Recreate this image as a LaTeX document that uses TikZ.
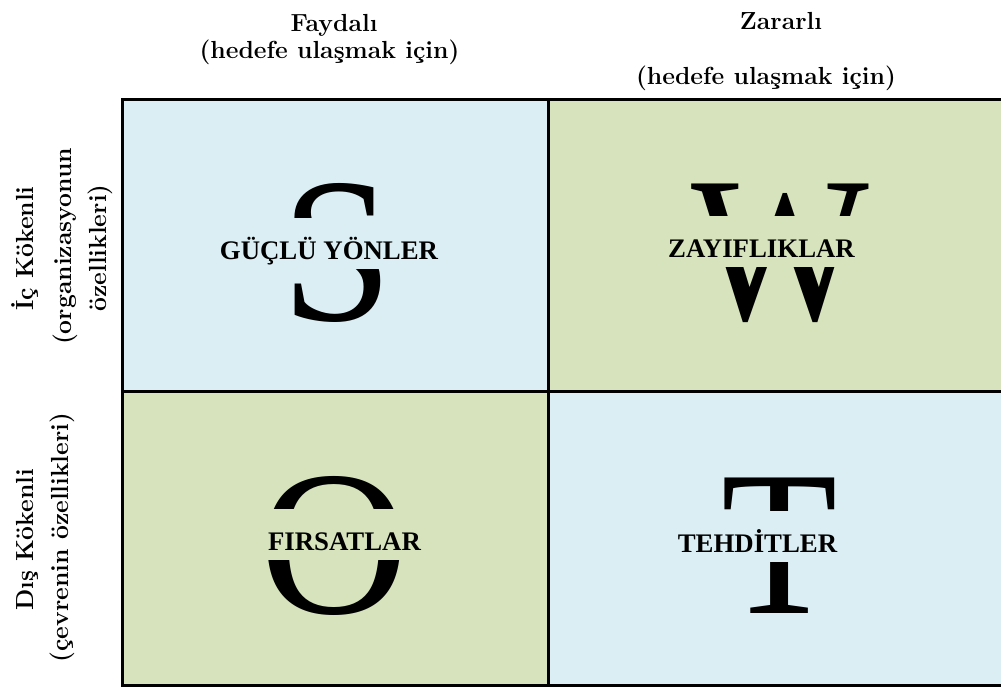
\documentclass[tikz,border=0pt]{standalone}
\usepackage{fontspec}
\usepackage{graphicx}
\usepackage{tikz}
\usetikzlibrary{positioning}
\newfontfamily\swotfont{Liberation Serif}
\definecolor{SwotBlue}{HTML}{DAEEF3}
\definecolor{SwotGreen}{HTML}{D6E3BC}
\tikzset{
  cell/.style={
    draw=black,
    line width=3pt,
    inner sep=0pt,
    outer sep=0pt
  },
  blueCell/.style={cell,fill=SwotBlue},
  greenCell/.style={cell,fill=SwotGreen},
  bigletter/.style={
    font={\swotfont\fontsize{207}{207}\selectfont},
    inner sep=0pt
  },
  swotlabel/.style={
    font={\swotfont\bfseries\fontsize{26.8}{30}\selectfont},
    text height=42pt,
    text depth=9pt,
    inner xsep=29pt,
    inner ysep=0pt,
    anchor=base
  },
  head/.style={
    font={\bfseries\fontsize{24.7}{28}\selectfont},
    inner sep=0pt,
    anchor=base
  },
  side/.style={head,rotate=90}
}

\begin{document}
\begin{tikzpicture}[x=1pt,y=1pt]
  \useasboundingbox (0,0) rectangle (1001,688);

  % The four cells of the matrix.
  \node[blueCell,  minimum width=426pt, minimum height=292pt]   (sCell) at (335,442)      {};
  \node[greenCell, minimum width=455pt, minimum height=292pt]   (wCell) at (775.5,442)    {};
  \node[greenCell, minimum width=426pt, minimum height=293.5pt] (oCell) at (335,149.25)   {};
  \node[blueCell,  minimum width=455pt, minimum height=293.5pt] (tCell) at (775.5,149.25) {};

  % Large initials, partly covered by the labels.
  \node[bigletter] (sBig) at (337,435.5) {\scalebox{.97}[1]{S}};
  \node[bigletter] (wBig) at (780,434.5) {\scalebox{.91}[1]{W}};
  \node[bigletter] (oBig) at (334,142)   {O};
  \node[bigletter] (tBig) at (780,142.5) {\scalebox{.92}[1]{T}};

  \node[swotlabel,fill=SwotBlue]  (sLabel) at (329,428)   {GÜÇLÜ YÖNLER};
  \node[swotlabel,fill=SwotGreen] (wLabel) at (761.5,430) {ZAYIFLIKLAR};
  \node[swotlabel,fill=SwotGreen] (oLabel) at (344.5,137) {FIRSATLAR};
  \node[swotlabel,fill=SwotBlue]  (tLabel) at (757.5,135) {TEHDİTLER};

  % Column headings.
  \node[head] (fayda)     at (334,656)   {Faydalı};
  \node[head] (faydaNote) at (329.5,629) {(hedefe ulaşmak için)};
  \node[head] (zarar)     at (781,658)   {Zararlı};
  \node[head] (zararNote) at (766,603)   {(hedefe ulaşmak için)};

  % Row headings, read from bottom to top.
  \node[side] (ic)      at (33,439.5)  {İç Kökenli};
  \node[side] (icNote)  at (71.5,441.5) {(organizasyonun};
  \node[side] (icNote2) at (106,440)   {özellikleri)};
  \node[side] (dis)     at (33,148.5)  {Dış Kökenli};
  \node[side] (disNote) at (68.5,150.5) {(çevrenin özellikleri)};
\end{tikzpicture}
\end{document}
